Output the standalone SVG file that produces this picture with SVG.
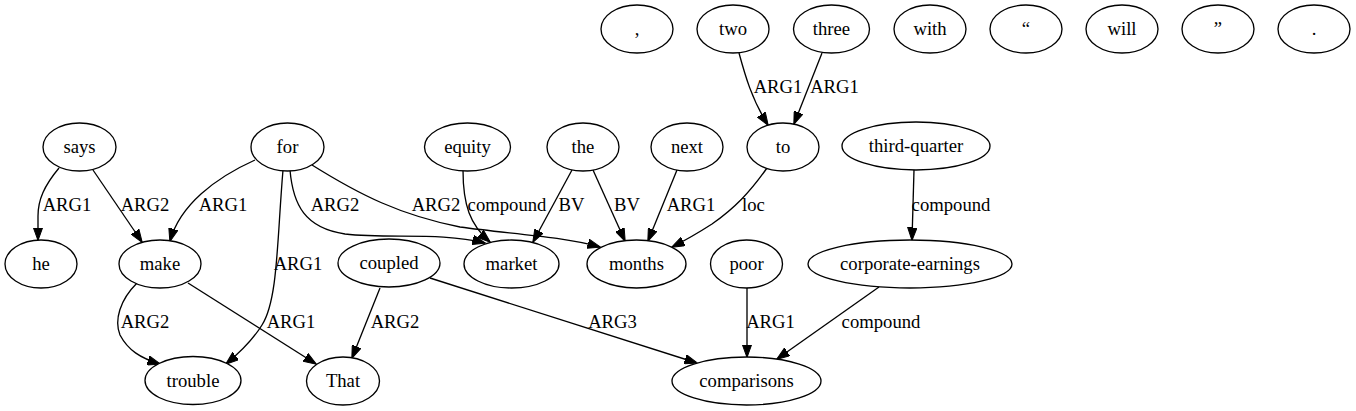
<svg xmlns="http://www.w3.org/2000/svg" width="1356" height="411" viewBox="0 0 1356 411">
<style>
ellipse{fill:#fff;stroke:#000;stroke-width:1.33}
text{font-family:'Liberation Serif','Times New Roman',Times,serif;font-size:18.67px;text-anchor:middle;fill:#000}
.e path{fill:none;stroke:#000;stroke-width:1.33;marker-end:url(#arr)}
</style>
<defs>
<marker id="arr" viewBox="0 0 13 10" refX="12.5" refY="5" markerWidth="13" markerHeight="10" markerUnits="userSpaceOnUse" orient="auto">
<path d="M0,0.3 L13,5 L0,9.7 Z" fill="#000" stroke="#000" stroke-width="1"/>
</marker>
</defs>
<rect width="1356" height="411" fill="#fff"/>
<g id="edges" class="e">
<path d="M59,168 C44,186 38,200 38,216 L38,240"/>
<path d="M93,170 L142,242"/>
<path d="M255,160 C215,178 180,205 170,241"/>
<path d="M283,170 C277,240 278,300 262,325 C254,338 243,350 226,364"/>
<path d="M290,170 C293,205 305,228 345,234 C390,239 440,232 485,243"/>
<path d="M312,165 C360,195 400,215 460,227 C510,234 560,236 600,247"/>
<path d="M463,170 C463,205 470,225 490,242"/>
<path d="M572,170 L533,242"/>
<path d="M593,170 L625,241"/>
<path d="M677,170 L648,241"/>
<path d="M767,168 C750,192 735,208 712,224 C698,233 686,240 672,247"/>
<path d="M739,53 C745,75 752,100 768,125"/>
<path d="M822,53 L794,124"/>
<path d="M914,170 L912,240"/>
<path d="M879,287 L777,359"/>
<path d="M747,288 L747,357"/>
<path d="M380,288 L352,358"/>
<path d="M430,278 L697,363"/>
<path d="M137,283 C120,300 114,320 120,335 C128,350 140,358 160,364"/>
<path d="M188,283 L316,364"/>
<text x="67" y="211">ARG1</text>
<text x="145" y="211">ARG2</text>
<text x="223" y="211">ARG1</text>
<text x="335" y="211">ARG2</text>
<text x="436" y="211">ARG2</text>
<text x="507" y="211">compound</text>
<text x="571.5" y="211">BV</text>
<text x="627" y="211">BV</text>
<text x="691" y="211">ARG1</text>
<text x="753.5" y="211">loc</text>
<text x="778" y="93">ARG1</text>
<text x="834.5" y="93">ARG1</text>
<text x="951" y="211">compound</text>
<text x="298" y="270">ARG1</text>
<text x="145" y="328">ARG2</text>
<text x="291" y="328">ARG1</text>
<text x="395" y="328">ARG2</text>
<text x="612.5" y="328">ARG3</text>
<text x="770.5" y="328">ARG1</text>
<text x="881" y="328">compound</text>
</g>
<g id="n_comma"><ellipse cx="637" cy="29" rx="36" ry="24"/><text x="637" y="35">,</text></g>
<g id="n_two"><ellipse cx="733" cy="29" rx="36" ry="24"/><text x="733" y="35">two</text></g>
<g id="n_three"><ellipse cx="831.5" cy="29" rx="38" ry="24"/><text x="831.5" y="35">three</text></g>
<g id="n_with"><ellipse cx="930" cy="29" rx="36" ry="24"/><text x="930" y="35">with</text></g>
<g id="n_lquote"><ellipse cx="1026" cy="29" rx="36" ry="24"/><text x="1026" y="35">“</text></g>
<g id="n_will"><ellipse cx="1122" cy="29" rx="36" ry="24"/><text x="1122" y="35">will</text></g>
<g id="n_rquote"><ellipse cx="1218" cy="29" rx="36" ry="24"/><text x="1218" y="35">”</text></g>
<g id="n_period"><ellipse cx="1314" cy="29" rx="36" ry="24"/><text x="1314" y="35">.</text></g>
<g id="n_says"><ellipse cx="79.5" cy="147" rx="36.5" ry="24"/><text x="79.5" y="153">says</text></g>
<g id="n_for"><ellipse cx="287.5" cy="147" rx="36.5" ry="24"/><text x="287.5" y="153">for</text></g>
<g id="n_equity"><ellipse cx="467.5" cy="147" rx="43" ry="24"/><text x="467.5" y="153">equity</text></g>
<g id="n_the"><ellipse cx="583" cy="147" rx="36" ry="24"/><text x="583" y="153">the</text></g>
<g id="n_next"><ellipse cx="687" cy="147" rx="36" ry="24"/><text x="687" y="153">next</text></g>
<g id="n_to"><ellipse cx="783" cy="147" rx="36" ry="24"/><text x="783" y="153">to</text></g>
<g id="n_thirdquarter"><ellipse cx="916" cy="146" rx="74" ry="24"/><text x="916" y="152">third-quarter</text></g>
<g id="n_he"><ellipse cx="41" cy="264" rx="36" ry="24"/><text x="41" y="270">he</text></g>
<g id="n_make"><ellipse cx="160" cy="264" rx="41" ry="24"/><text x="160" y="270">make</text></g>
<g id="n_coupled"><ellipse cx="389" cy="263" rx="51" ry="24"/><text x="389" y="269">coupled</text></g>
<g id="n_market"><ellipse cx="511.5" cy="264" rx="47.5" ry="24"/><text x="511.5" y="270">market</text></g>
<g id="n_months"><ellipse cx="636.5" cy="264" rx="49.5" ry="24"/><text x="636.5" y="270">months</text></g>
<g id="n_poor"><ellipse cx="746.5" cy="264" rx="36" ry="24"/><text x="746.5" y="270">poor</text></g>
<g id="n_corpearn"><ellipse cx="910" cy="264" rx="102" ry="24"/><text x="910" y="270">corporate-earnings</text></g>
<g id="n_trouble"><ellipse cx="193" cy="380.5" rx="48" ry="24"/><text x="193" y="386.5">trouble</text></g>
<g id="n_That"><ellipse cx="343" cy="381" rx="36.5" ry="24"/><text x="343" y="387">That</text></g>
<g id="n_comparisons"><ellipse cx="746.5" cy="381" rx="74.5" ry="24"/><text x="746.5" y="387">comparisons</text></g>
</svg>
